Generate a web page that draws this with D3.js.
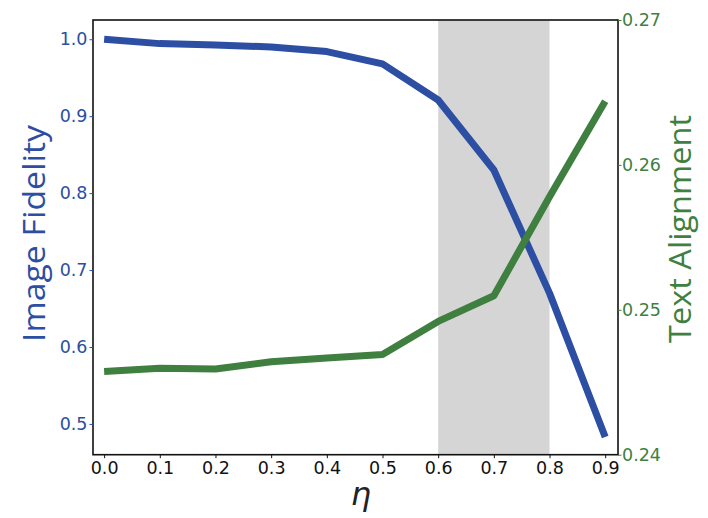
<!DOCTYPE html>
<html>
<head>
<meta charset="utf-8">
<script src="https://cdn.jsdelivr.net/npm/d3@7.9.0/dist/d3.min.js"></script>
<style>
  body { margin: 0; background: #fff; }
  svg text { font-family: "DejaVu Sans", sans-serif; }
</style>
</head>
<body>
<svg id="chart" width="708" height="518"></svg>
<script>
// data
const eta = [0.0, 0.1, 0.2, 0.3, 0.4, 0.5, 0.6, 0.7, 0.8, 0.9];
const fidelity = [1.0, 0.9943, 0.9926, 0.990, 0.984, 0.968, 0.921, 0.830, 0.670, 0.483];
const alignment = [0.24575, 0.24596, 0.24591, 0.24641, 0.24667, 0.24692, 0.2492, 0.25097, 0.2578, 0.2644];
const leftTicks = [0.5, 0.6, 0.7, 0.8, 0.9, 1.0];
const rightTicks = [0.24, 0.25, 0.26, 0.27];
const shadeRange = [0.6, 0.8];

const blue = '#2c4ea3';
const green = '#3f7f3f';

const svg = d3.select('#chart');
const pl = 93, pr = 618, pt = 20, pb = 454.7;

const x = d3.scaleLinear().domain([-0.02, 0.923]).range([pl, pr]);
const yL = d3.scaleLinear().domain([0.46, 1.025]).range([pb, pt]);
const yR = d3.scaleLinear().domain([0.24, 0.27]).range([pb, pt]);

// shaded band
svg.append('rect')
  .attr('x', x(shadeRange[0]))
  .attr('y', pt)
  .attr('width', x(shadeRange[1]) - x(shadeRange[0]))
  .attr('height', pb - pt)
  .attr('fill', '#d5d5d5');

// lines
const lineL = d3.line().x((d, i) => x(eta[i])).y(d => yL(d));
const lineR = d3.line().x((d, i) => x(eta[i])).y(d => yR(d));

svg.append('path')
  .attr('d', lineL(fidelity))
  .attr('fill', 'none')
  .attr('stroke', blue)
  .attr('stroke-width', 7)
  .attr('stroke-linejoin', 'round');

svg.append('path')
  .attr('d', lineR(alignment))
  .attr('fill', 'none')
  .attr('stroke', green)
  .attr('stroke-width', 7)
  .attr('stroke-linejoin', 'round');

// frame
svg.append('rect')
  .attr('x', pl).attr('y', pt)
  .attr('width', pr - pl).attr('height', pb - pt)
  .attr('fill', 'none').attr('stroke', '#111').attr('stroke-width', 1.6);

// axes
const xAxis = svg.append('g')
  .attr('transform', `translate(0,${pb})`)
  .call(d3.axisBottom(x).tickValues(eta).tickFormat(d3.format('.1f')).tickSize(3.5).tickPadding(3));

const leftAxis = svg.append('g')
  .attr('transform', `translate(${pl},0)`)
  .call(d3.axisLeft(yL).tickValues(leftTicks).tickFormat(d3.format('.1f')).tickSize(3.5).tickPadding(2));

const rightAxis = svg.append('g')
  .attr('transform', `translate(${pr},0)`)
  .call(d3.axisRight(yR).tickValues(rightTicks).tickFormat(d3.format('.2f')).tickSize(3.5).tickPadding(0.5));

[xAxis, leftAxis, rightAxis].forEach(g => {
  g.select('.domain').remove();
  g.selectAll('text').attr('font-size', 17.5).attr('font-family', '"DejaVu Sans", sans-serif');
});
xAxis.selectAll('line').attr('stroke', '#111');
xAxis.selectAll('text').attr('fill', '#111');
leftAxis.selectAll('line').attr('stroke', blue);
leftAxis.selectAll('text').attr('fill', blue);
rightAxis.selectAll('line').attr('stroke', green);
rightAxis.selectAll('text').attr('fill', green);

// axis titles
svg.append('text')
  .attr('transform', `translate(44.5,233.5) rotate(-90)`)
  .attr('text-anchor', 'middle')
  .attr('fill', blue)
  .style('font-family', '"Open Sans", sans-serif')
  .attr('font-size', 31)
  .attr('textLength', 217)
  .attr('lengthAdjust', 'spacingAndGlyphs')
  .text('Image Fidelity');

svg.append('text')
  .attr('transform', `translate(691,229) rotate(-90)`)
  .attr('text-anchor', 'middle')
  .attr('fill', green)
  .style('font-family', '"Open Sans", sans-serif')
  .attr('font-size', 31)
  .attr('textLength', 228)
  .attr('lengthAdjust', 'spacingAndGlyphs')
  .text('Text Alignment');

svg.append('text')
  .attr('x', 361)
  .attr('y', 505)
  .attr('text-anchor', 'middle')
  .attr('fill', '#222')
  .attr('font-size', 32)
  .attr('font-style', 'italic')
  .text('η');
</script>
</body>
</html>
